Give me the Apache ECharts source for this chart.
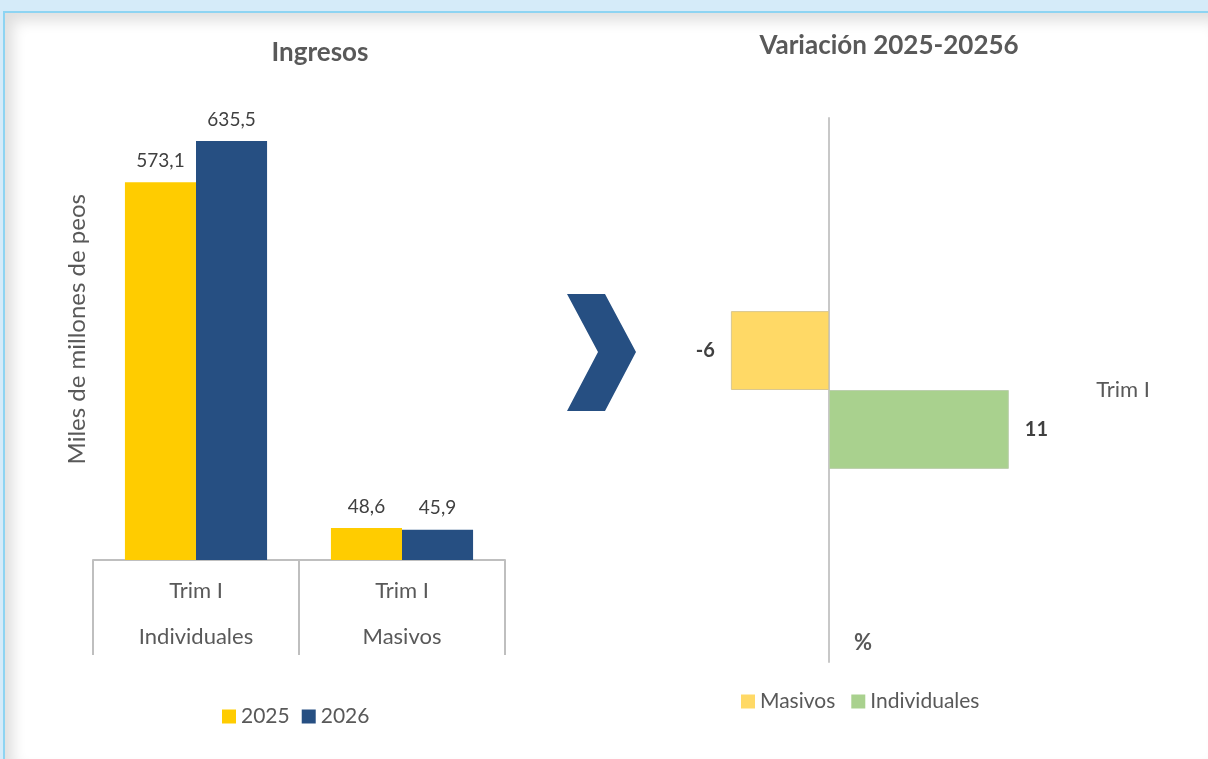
<!DOCTYPE html>
<html>

<head lang="es">
    <meta charset="utf-8">
    <title>Ingresos</title>
    <script src="https://cdn.jsdelivr.net/npm/echarts@6/dist/echarts.min.js"></script>
    <style>
        body { margin: 0; background: #d5ebf9; width: 1208px; height: 759px; overflow: hidden; }
        #panel {
            position: absolute; left: 3px; top: 11px; width: 1205px; height: 748px;
            background: #fff; border-top: 2px solid #8ed4f2; border-left: 2px solid #8ed4f2;
            box-shadow: inset 8px 8px 14px rgba(0, 0, 0, 0.13);
        }
        #main { position: absolute; left: 0; top: 0; width: 1208px; height: 759px; }
    </style>
</head>

<body>
    <div id="panel"></div>
    <div id="main"></div>
    <script type="text/javascript">
        var myChart = echarts.init(document.getElementById('main'));

        /*--------------------- datos ----------------------------*/
        var periodo = 'Trim I';
        var categorias = ['Individuales', 'Masivos'];
        var ingresos2025 = [573.1, 48.6];
        var ingresos2026 = [635.5, 45.9];

        var variacionSeries = ['Masivos', 'Individuales'];
        var variacionMasivos = [-6];
        var variacionIndividuales = [11];

        /*--------------------- estilos ----------------------------*/
        var fuente = 'Lato';
        var gris = '#595959';
        var amarillo = '#ffcc00';
        var azul = '#264f82';

        function coma(v) {
            return String(v).replace('.', ',');
        }

        var option = {
            textStyle: { fontFamily: fuente },
            animation: false,
            title: [{
                text: 'Ingresos',
                left: 315,
                top: 35,
                textAlign: 'center',
                textStyle: { color: gris, fontSize: 26, fontWeight: 'bold', fontFamily: fuente }
            }, {
                text: 'Variación 2025-20256',
                left: 884,
                top: 28,
                textAlign: 'center',
                textStyle: { color: gris, fontSize: 26, fontWeight: 'bold', fontFamily: fuente }
            }],
            legend: [{
                data: ['2025', '2026'],
                left: 217,
                top: 701,
                icon: 'rect',
                itemWidth: 14,
                itemHeight: 14,
                itemGap: 12,
                itemStyle: { borderWidth: 0 },
                textStyle: { color: gris, fontSize: 21 }
            }, {
                data: variacionSeries,
                left: 736,
                top: 686,
                icon: 'rect',
                itemWidth: 14,
                itemHeight: 14,
                itemGap: 16,
                itemStyle: { borderWidth: 0 },
                textStyle: { color: gris, fontSize: 21 }
            }],
            grid: [{
                left: 93,
                right: 703,
                top: 98.5,
                bottom: 199
            }, {
                left: 665.5,
                right: 133.75,
                top: 118,
                bottom: 97
            }],
            xAxis: [{
                type: 'category',
                gridIndex: 0,
                data: categorias,
                axisLine: { lineStyle: { color: '#bfbfbf', width: 2 } },
                axisTick: { show: true, length: 95, lineStyle: { color: '#bfbfbf', width: 2 } },
                axisLabel: {
                    color: gris,
                    fontSize: 22,
                    lineHeight: 46,
                    margin: 8,
                    formatter: function (name) {
                        return periodo + '\n' + name;
                    }
                }
            }, {
                type: 'value',
                gridIndex: 1,
                min: -10,
                max: 15,
                show: false
            }],
            yAxis: [{
                type: 'value',
                gridIndex: 0,
                min: 0,
                max: 700,
                name: 'Miles de millones de peos',
                nameLocation: 'middle',
                nameGap: 4,
                nameRotate: 90,
                nameTextStyle: { color: gris, fontSize: 24 },
                axisLine: { show: false },
                axisTick: { show: false },
                axisLabel: { show: false },
                splitLine: { show: false }
            }, {
                type: 'category',
                gridIndex: 1,
                data: [periodo],
                axisLine: { onZero: true, lineStyle: { color: '#c8c8c8', width: 2 } },
                axisTick: { show: false },
                axisLabel: { show: false }
            }, {
                type: 'category',
                gridIndex: 1,
                position: 'right',
                data: [periodo],
                axisLine: { show: false, onZero: false },
                axisTick: { show: false },
                axisLabel: { color: gris, fontSize: 22, margin: 22 }
            }],
            series: [{
                name: '2025',
                type: 'bar',
                xAxisIndex: 0,
                yAxisIndex: 0,
                data: ingresos2025,
                barGap: 0,
                barCategoryGap: '31%',
                itemStyle: { color: amarillo },
                label: {
                    show: true,
                    position: 'top',
                    distance: 12,
                    color: '#404040',
                    fontSize: 19,
                    formatter: function (p) { return coma(p.value); }
                }
            }, {
                name: '2026',
                type: 'bar',
                xAxisIndex: 0,
                yAxisIndex: 0,
                data: ingresos2026,
                barGap: 0,
                barCategoryGap: '31%',
                itemStyle: { color: azul },
                label: {
                    show: true,
                    position: 'top',
                    distance: 12,
                    color: '#404040',
                    fontSize: 19,
                    formatter: function (p) { return coma(p.value); }
                }
            }, {
                name: 'Masivos',
                type: 'bar',
                xAxisIndex: 1,
                yAxisIndex: 1,
                data: variacionMasivos,
                barGap: 0,
                barCategoryGap: '71%',
                itemStyle: { color: '#ffd966', borderColor: '#d9c790', borderWidth: 1 },
                label: {
                    show: true,
                    position: 'left',
                    distance: 16,
                    color: '#404040',
                    fontSize: 20,
                    fontWeight: 'bold'
                }
            }, {
                name: 'Individuales',
                type: 'bar',
                xAxisIndex: 1,
                yAxisIndex: 1,
                data: variacionIndividuales,
                barGap: 0,
                barCategoryGap: '71%',
                itemStyle: { color: '#a9d18e', borderColor: '#bccfae', borderWidth: 1 },
                label: {
                    show: true,
                    position: 'right',
                    distance: 16,
                    color: '#404040',
                    fontSize: 20,
                    fontWeight: 'bold'
                }
            }],
            graphic: [{
                // flecha
                type: 'polygon',
                shape: {
                    points: [[567, 294], [605, 294], [636, 352], [605, 411], [567, 411], [598, 352]]
                },
                style: { fill: azul }
            }, {
                type: 'text',
                left: 854,
                top: 632,
                style: { text: '%', fill: gris, fontSize: 22, fontWeight: 'bold', fontFamily: fuente }
            }]
        };

        myChart.setOption(option);
    </script>
</body>

</html>
